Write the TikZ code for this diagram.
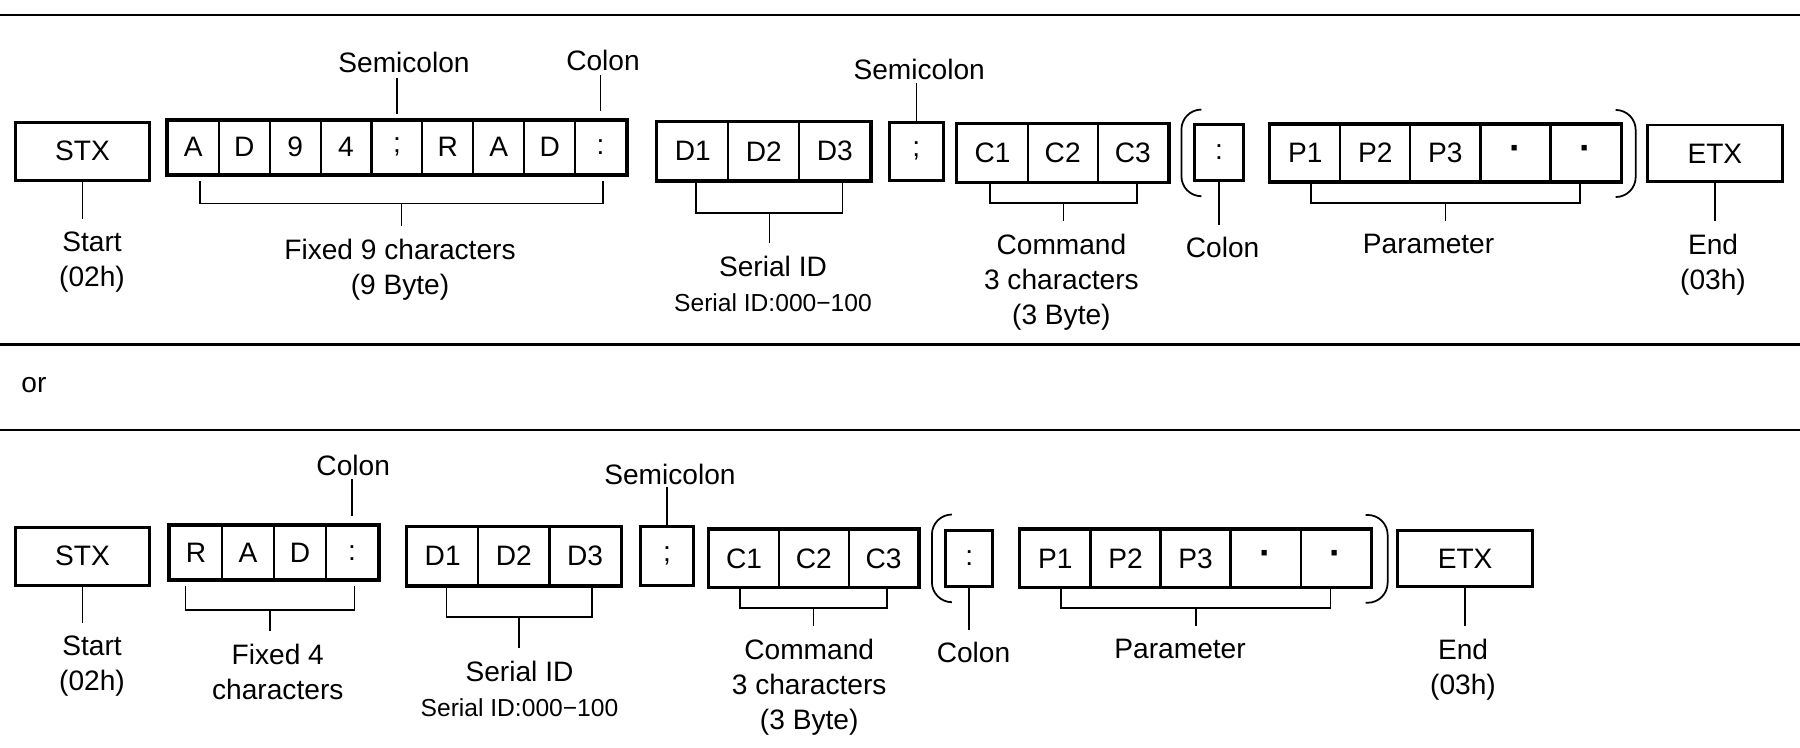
\documentclass[tikz,border=0pt]{standalone}
\usepackage{fontspec}
\setmainfont{Liberation Sans}
\usetikzlibrary{calc}

\newcommand{\pdot}{{\fontsize{10.5}{10.5}\selectfont\bfseries ·}}

\begin{document}
\begin{tikzpicture}[x=0.1mm, y=-0.1mm, font=\fontsize{8}{10}\selectfont,
    cell/.style={draw, line width=0.6pt, inner sep=0pt},
    frame/.style={line width=0.85pt},
    leg/.style={line width=0.45pt},
    paren/.style={line width=0.5pt, rounded corners=2mm},
    lbl/.style={align=center, inner sep=0pt}]
  \useasboundingbox (0,0) rectangle (1800,747);
  % rules between the two forms
  \draw[line width=0.65pt] (0,15) -- (1800,15);
  \draw[line width=0.65pt] (0,344.5) -- (1800,344.5);
  \draw[line width=0.65pt] (0,430) -- (1800,430);
  \node[anchor=base west, inner sep=0pt] (ortxt) at (20.7,392.3) {or};

  % first form
  \node[cell, frame, minimum width=13.34mm, minimum height=5.77mm] (stxa) at (82.5,151.2) {STX};
  \foreach \t [count=\i] in {A,D,9,4,;,R,A,D,:}
    \node[cell, minimum width=5.09mm, minimum height=5.33mm] (fxa\i) at ({167.9+50.9*(\i-0.5)},147.3) {\t};
  \draw[frame] (fxa1.north west) rectangle (fxa9.south east);
  \foreach \t [count=\i] in {D1,D2,D3}
    \node[cell, minimum width=7.1mm, minimum height=5.77mm] (ida\i) at ({657.2+71.03*(\i-0.5)},151.2) {\t};
  \draw[frame] (ida1.north west) rectangle (ida3.south east);
  \node[cell, frame, minimum width=5.39mm, minimum height=5.77mm] (sca) at (916.35,151.2) {;};
  \foreach \t [count=\i] in {C1,C2,C3}
    \node[cell, minimum width=7.02mm, minimum height=5.77mm] (cma\i) at ({957.4+70.2*(\i-0.5)},152.9) {\t};
  \draw[frame] (cma1.north west) rectangle (cma3.south east);
  \node[cell, frame, minimum width=4.83mm, minimum height=5.67mm] (cla) at (1219.05,152.4) {:};
  \foreach \t [count=\i] in {P1,P2,P3,\pdot,\pdot}
    \node[cell, minimum width=7.01mm, minimum height=5.6mm] (pma\i) at ({1270.2+70.08*(\i-0.5)},153) {\t};
  \draw[frame] (pma1.north west) rectangle (pma5.south east);
  \node[cell, frame, minimum width=13.47mm, minimum height=5.67mm] (etxa) at (1714.85,153.35) {ETX};
  \draw[paren] ([shift={(8,-13)}]cla.north west) -- ([shift={(-12,-13)}]cla.north west)
    -- ([shift={(-12,14)}]cla.south west) -- ([shift={(8,14)}]cla.south west);
  \draw[paren] ([shift={(-6,-14)}]pma5.north east) -- ([shift={(14,-14)}]pma5.north east)
    -- ([shift={(14,15)}]pma5.south east) -- ([shift={(-6,15)}]pma5.south east);

  \node[lbl, anchor=south] (lsema) at (404,73.3) {Semicolon};
  \node[lbl, anchor=south] (lcola) at (603,71.7) {Colon};
  \node[lbl, anchor=south] (lscaa) at (919.2,80) {Semicolon};
  \draw[leg, shorten <=0.57mm, shorten >=0.5mm] (fxa5.north) -- (fxa5.north |- lsema.south);
  \draw[leg, shorten <=0.9mm, shorten >=0.33mm] (fxa9.north) -- (fxa9.north |- lcola.south);
  \draw[leg, shorten >=0.27mm] (sca.north) -- (sca.north |- lscaa.south);

  \node[lbl, anchor=north] (lstarta) at (92,230.7) {Start\\(02h)};
  \node[lbl, anchor=north] (lfixa) at (400,238.3) {Fixed 9 characters\\(9 Byte)};
  \node[lbl, anchor=north] (lida) at (773,255) {Serial ID\\{\fontsize{7}{10}\selectfont Serial ID:000−100}};
  \node[lbl, anchor=north] (lcma) at (1061.4,233.3) {Command\\3 characters\\(3 Byte)};
  \node[lbl, anchor=north] (lcla) at (1222.6,236.7) {Colon};
  \node[lbl, anchor=north] (lpma) at (1428.6,233.3) {Parameter};
  \node[lbl, anchor=north] (lenda) at (1713,233.3) {End\\(03h)};

  % second form
  \node[cell, frame, minimum width=13.34mm, minimum height=5.77mm] (stxb) at (82.5,556.15) {STX};
  \foreach \t [count=\i] in {R,A,D,:}
    \node[cell, minimum width=5.2mm, minimum height=5.33mm] (fxb\i) at ({170+52.03*(\i-0.5)},552.65) {\t};
  \draw[frame] (fxb1.north west) rectangle (fxb4.south east);
  \foreach \t [count=\i] in {D1,D2,D3}
    \node[cell, minimum width=7.12mm, minimum height=5.77mm] (idb\i) at ({407.1+71.17*(\i-0.5)},556.15) {\t};
  \draw[frame] (idb1.north west) rectangle (idb3.south east);
  \node[cell, frame, minimum width=5.36mm, minimum height=5.83mm] (scb) at (667.1,555.85) {;};
  \foreach \t [count=\i] in {C1,C2,C3}
    \node[cell, minimum width=6.97mm, minimum height=5.67mm] (cmb\i) at ({709.2+69.73*(\i-0.5)},558.35) {\t};
  \draw[frame] (cmb1.north west) rectangle (cmb3.south east);
  \node[cell, frame, minimum width=4.75mm, minimum height=5.67mm] (clb) at (969.15,558.35) {:};
  \foreach \t [count=\i] in {P1,P2,P3,\pdot,\pdot}
    \node[cell, minimum width=7.0mm, minimum height=5.67mm] (pmb\i) at ({1020.4+70.04*(\i-0.5)},558.35) {\t};
  \draw[frame] (pmb1.north west) rectangle (pmb5.south east);
  \node[cell, frame, minimum width=13.44mm, minimum height=5.67mm] (etxb) at (1465.1,558.35) {ETX};
  \draw[paren] ([shift={(8,-14)}]clb.north west) -- ([shift={(-12,-14)}]clb.north west)
    -- ([shift={(-12,14)}]clb.south west) -- ([shift={(8,14)}]clb.south west);
  \draw[paren] ([shift={(-6,-14)}]pmb5.north east) -- ([shift={(16,-14)}]pmb5.north east)
    -- ([shift={(16,15)}]pmb5.south east) -- ([shift={(-6,15)}]pmb5.south east);

  \node[lbl, anchor=south] (lcolb) at (353.2,476.7) {Colon};
  \node[lbl, anchor=south] (lscab) at (669.9,485) {Semicolon};
  \draw[leg, shorten <=0.87mm, shorten >=0.26mm] (fxb4.north) -- (fxb4.north |- lcolb.south);
  \draw[leg, shorten >=0.23mm] (scb.north) -- (scb.north |- lscab.south);

  \node[lbl, anchor=north] (lstartb) at (92,635) {Start\\(02h)};
  \node[lbl, anchor=north] (lfixb) at (277.8,643.3) {Fixed 4\\characters};
  \node[lbl, anchor=north] (lidb) at (519.5,660) {Serial ID\\{\fontsize{7}{10}\selectfont Serial ID:000−100}};
  \node[lbl, anchor=north] (lcmb) at (809.2,638.3) {Command\\3 characters\\(3 Byte)};
  \node[lbl, anchor=north] (lclb) at (973.5,641.7) {Colon};
  \node[lbl, anchor=north] (lpmb) at (1180.1,638.3) {Parameter};
  \node[lbl, anchor=north] (lendb) at (1463,638.3) {End\\(03h)};

  % brackets: first cell/shift, last cell/shift, gap, depth, label
  \foreach \ba/\oa/\bb/\ob/\g/\d/\l in {fxa1/0.65/fxa9/0.25/0.6/22.3/lfixa, ida1/0.35/ida3/0.78/0/31.7/lida,
      cma1/-0.28/cma3/0.4/0/20/lcma, pma1/0.57/pma5/-0.56/0/20.7/lpma,
      fxb1/-1.07/fxb4/0.25/0.55/24/lfixb, idb1/0.38/idb3/0.7/0/31/lidb,
      cmb1/-0.42/cmb3/0.32/0/20/lcmb, pmb1/0.58/pmb5/-0.51/0/20.3/lpmb} {
    \coordinate (p) at ([xshift=\oa mm, yshift=-\g mm]\ba.south);
    \coordinate (q) at ([xshift=\ob mm, yshift=-\g mm]\bb.south);
    \draw[leg] (p) |- ($(p)!.5!(q)+(0,\d)$) coordinate (m) -| (q);
    \draw[leg, shorten >=1.2mm] (m) -- (m |- \l.north);
  }
  % single stems
  \foreach \s/\l in {stxa.south/lstarta, cla.south/lcla, etxa.south/lenda,
      stxb.south/lstartb, clb.south/lclb, etxb.south/lendb}
    \draw[leg, shorten >=1.2mm] (\s) -- (\s |- \l.north);
\end{tikzpicture}
\end{document}
